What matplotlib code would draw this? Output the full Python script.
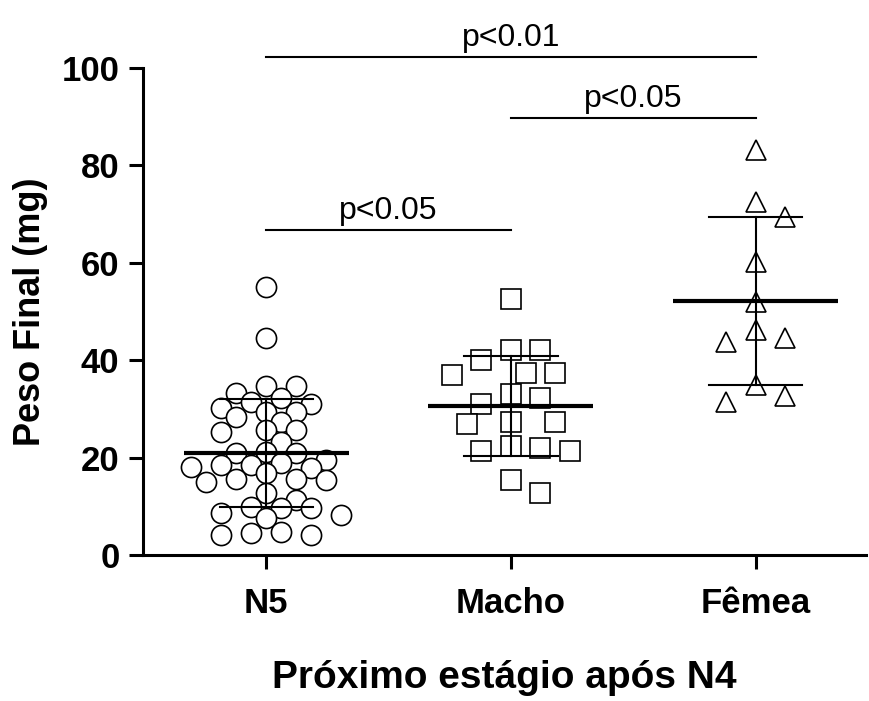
import numpy as np
import matplotlib
matplotlib.use("Agg")
import matplotlib.pyplot as plt

plt.rcParams['font.family'] = ['Liberation Sans', 'DejaVu Sans']

categories = ["N5", "Macho", "Fêmea"]
n5 = [55.0, 44.5, 34.6, 33.3, 34.7, 31.5, 32.2, 31.1, 29.4, 30.1, 28.4, 29.4,
      27.4, 25.7, 25.3, 25.7, 23.3, 21.2, 21.0, 21.0, 18.8, 18.5, 19.5, 18.5,
      17.8, 18.1, 15.7, 15.7, 15.0, 15.4, 16.8, 12.7, 11.3, 9.6, 8.6, 8.2, 9.9,
      9.6, 7.5, 4.5, 4.1, 4.1, 4.8]
macho = [52.5, 42.1, 42.1, 40.0, 37.4, 37.0, 37.4, 33.1, 32.2, 31.0, 27.4, 27.4,
         26.9, 22.4, 21.4, 21.4, 21.9, 15.4, 12.8]
femea = [83.2, 72.5, 69.5, 60.2, 52.0, 44.5, 46.2, 43.8, 34.9, 31.5, 32.6]
means = [21.0, 30.6, 52.2]
sds = [11.1, 10.2, 17.3]
yticks = [0, 20, 40, 60, 80, 100]
comparisons = [(0, 2, "p<0.01", 102.2), (1, 2, "p<0.05", 89.8), (0, 1, "p<0.05", 66.7)]

W, H = 869, 701
fig = plt.figure(figsize=(W / 100, H / 100), dpi=100)
ax = fig.add_axes([143 / W, 146 / H, (866 - 143) / W, (555 - 68) / H])
ax.set_xlim(-0.503, 2.45)
ax.set_ylim(0, 100)

ppu_x = (866 - 143) / 2.953   # px per category unit
ppu_y = (555 - 68) / 100.0    # px per y unit


def swarm(vals, slot_px, min_d):
    vals = np.asarray(vals, float)
    order = np.argsort(-vals)
    placed = []
    offs = np.zeros(len(vals))
    cands = [0]
    for k in range(1, 12):
        cands += [k, -k]
    for i in order:
        y = vals[i] * ppu_y
        for k in cands:
            x = k * slot_px
            if all((x - px) ** 2 + (y - py) ** 2 >= min_d ** 2 for px, py in placed):
                break
        offs[i] = x
        placed.append((x, y))
    return offs / ppu_x


groups = [n5, macho, femea]
markers = ['o', 's', '^']
slots = [15, 14.75, 14.75]
mind = [17, 24, 24]
for i, (vals, m) in enumerate(zip(groups, markers)):
    off = swarm(vals, slots[i], mind[i])
    ax.plot(i + off, vals, linestyle='none', marker=m, markersize=14.5,
            markerfacecolor='white', markeredgecolor='black', markeredgewidth=1.2,
            zorder=3, clip_on=False)

for i, (mu, sd) in enumerate(zip(means, sds)):
    ax.plot([i - 0.337, i + 0.337], [mu, mu], color='black', lw=3.0, zorder=4,
            solid_capstyle='butt')
    ax.plot([i, i], [mu - sd, mu + sd], color='black', lw=1.5, zorder=4)
    for v in (mu - sd, mu + sd):
        ax.plot([i - 0.19, i + 0.19], [v, v], color='black', lw=1.5, zorder=4)

for a, b, label, yv in comparisons:
    ax.plot([a, b], [yv, yv], color='black', lw=1.5, clip_on=False)
    ax.text((a + b) / 2, yv + 0.8, label, ha='center', va='bottom', fontsize=23,
            clip_on=False)

for s in ['top', 'right']:
    ax.spines[s].set_visible(False)
for s in ['left', 'bottom']:
    ax.spines[s].set_linewidth(2.2)

ax.set_xticks(range(len(categories)))
ax.set_xticklabels(categories, fontsize=25, fontweight='bold')
ax.set_yticks(yticks)
ax.set_yticklabels([str(t) for t in yticks], fontsize=25, fontweight='bold')
ax.tick_params(axis='both', direction='out', length=10, width=2.2, pad=7)
ax.tick_params(axis='x', pad=13)
ax.set_ylabel("Peso Final (mg)", fontsize=26, fontweight='bold', labelpad=10)
ax.set_xlabel("Próximo estágio após N4", fontsize=28, fontweight='bold', labelpad=29)

fig.savefig("out.png", dpi=100)
